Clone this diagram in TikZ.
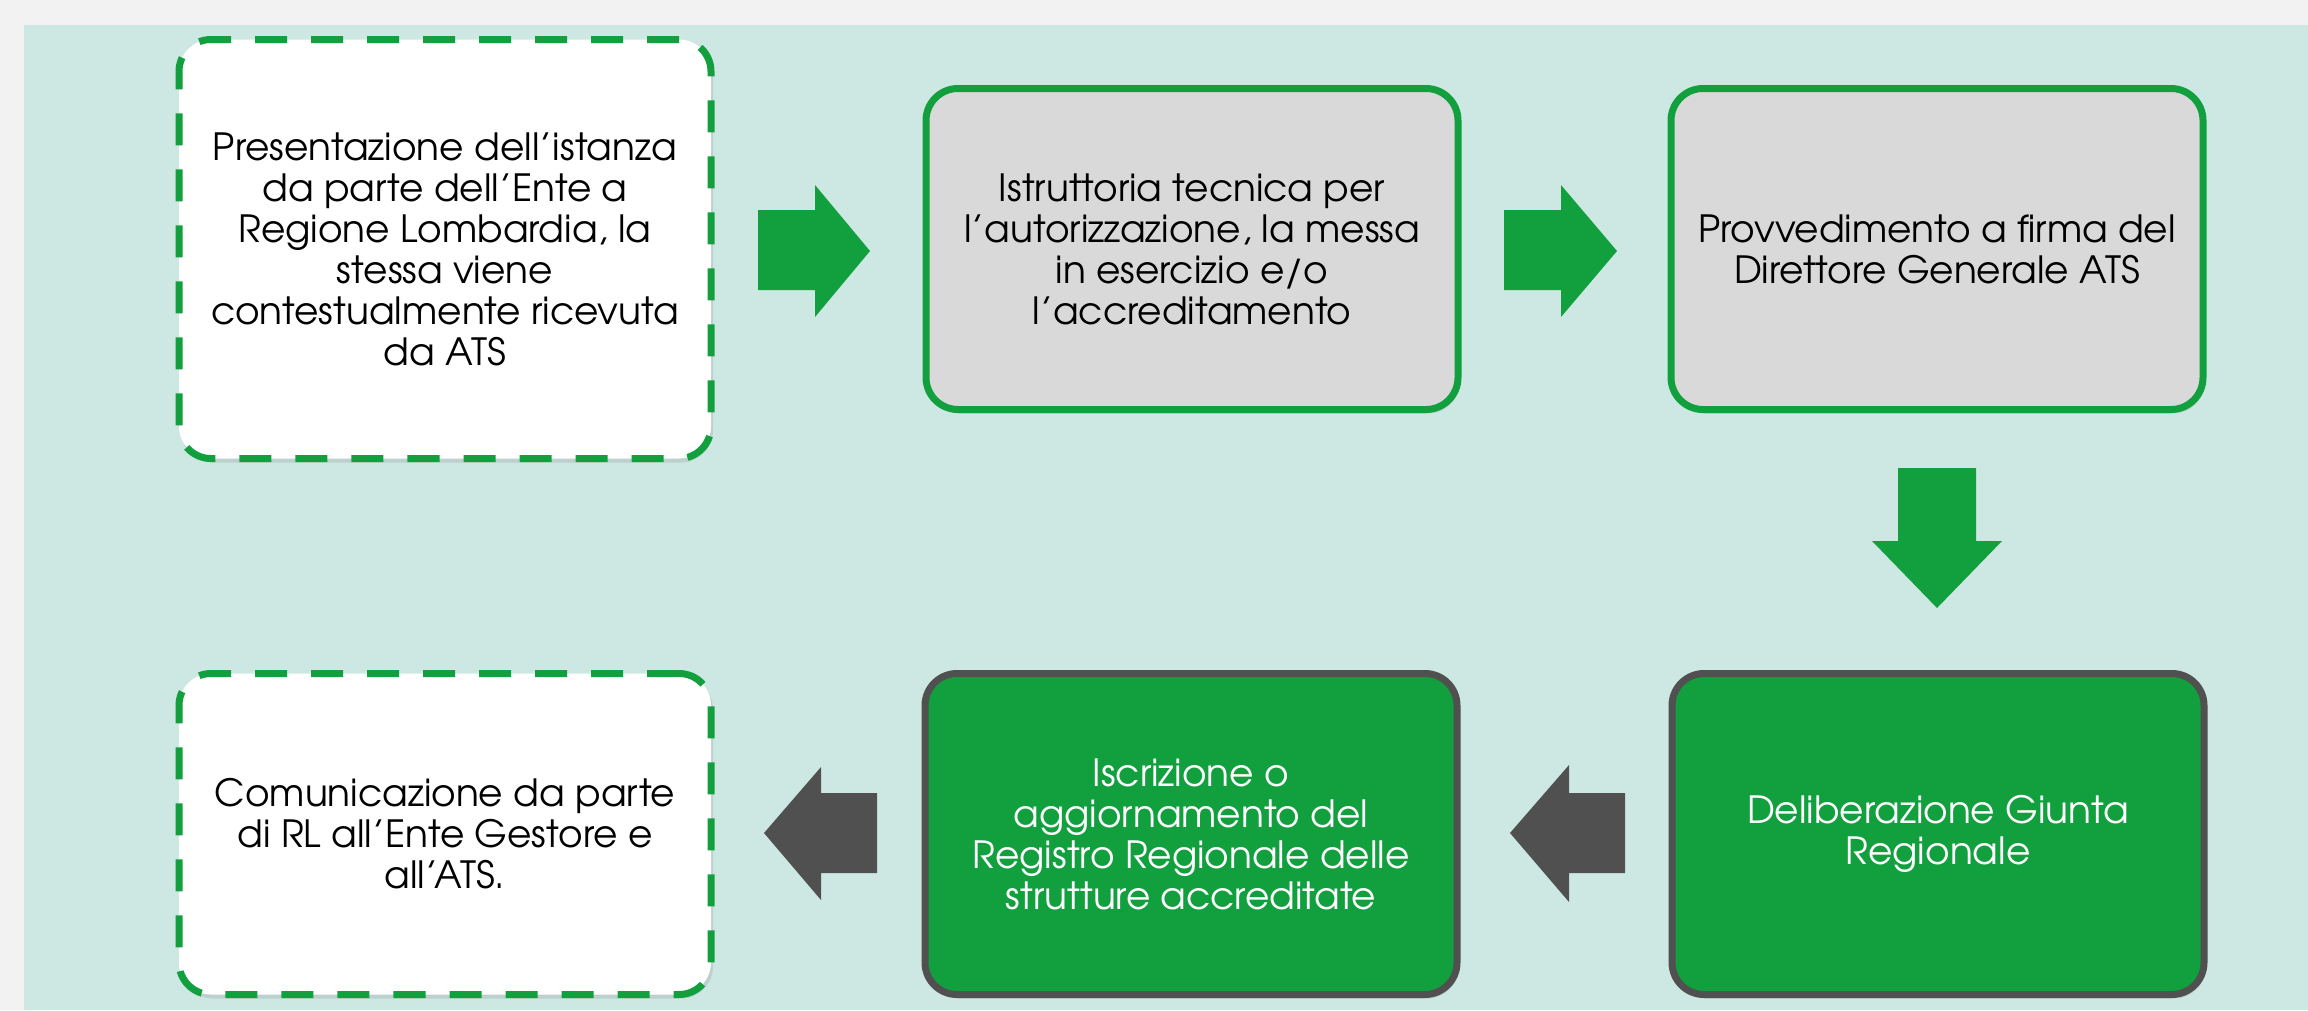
\documentclass[tikz,border=0pt]{standalone}
\usepackage{fontspec}
\setmainfont{TeX Gyre Adventor}
\usetikzlibrary{shadows}
\definecolor{topgray}{HTML}{F2F2F2}
\definecolor{bgteal}{HTML}{CDE7E3}
\definecolor{pgreen}{HTML}{12A03F}
\definecolor{lgray}{HTML}{D9D9D9}
\definecolor{dgray}{HTML}{505050}
\begin{document}
\begin{tikzpicture}[x=1pt,y=-1pt,
  boxbase/.style={rectangle, rounded corners=32pt, line width=7pt,
    minimum width=532pt, minimum height=321pt, align=center, inner sep=0pt,
    font=\fontsize{37.5}{41}\selectfont,
    drop shadow={opacity=0.22, shadow xshift=2pt, shadow yshift=-4pt}},
  dashbox/.style={boxbase, draw=pgreen, fill=white, dash pattern=on 32pt off 24pt, text=black},
  graybox/.style={boxbase, draw=pgreen, fill=lgray, text=black},
  greenbox/.style={boxbase, draw=dgray, fill=pgreen, text=white},
  garrow/.style={fill=pgreen},
  darrow/.style={fill=dgray}]
\useasboundingbox (0,0) rectangle (2308,1010);
\fill[topgray] (0,0) rectangle (2308,1010);
\fill[bgteal] (24,25) rectangle (2308,1010);

\node[dashbox, minimum height=419pt] (b1) at (445,249)
  {Presentazione dell’istanza\\da parte dell’Ente a\\Regione Lombardia, la\\stessa viene\\contestualmente ricevuta\\da ATS};
\node[graybox] (b2) at (1192,249)
  {Istruttoria tecnica per\\l’autorizzazione, la messa\\in esercizio e/o\\l’accreditamento};
\node[graybox] (b3) at (1937,249)
  {Provvedimento a firma del\\Direttore Generale ATS};
\node[dashbox] (b4) at (445,834)
  {Comunicazione da parte\\di RL all’Ente Gestore e\\all’ATS.};
\node[greenbox] (b5) at (1191,834)
  {Iscrizione o\\aggiornamento del\\Registro Regionale delle\\strutture accreditate};
\node[greenbox] (b6) at (1938,834)
  {Deliberazione Giunta\\Regionale};

% block arrows
\fill[garrow] (758,210) -- (815,210) -- (815,185) -- (870,251) -- (815,317) -- (815,290) -- (758,290) -- cycle;
\fill[garrow] (1504,210) -- (1561,210) -- (1561,185) -- (1617,251) -- (1561,317) -- (1561,290) -- (1504,290) -- cycle;
\fill[garrow] (1898,468) -- (1976,468) -- (1976,541) -- (2002,541) -- (1937,608) -- (1872,541) -- (1898,541) -- cycle;
\fill[darrow] (877,793) -- (821,793) -- (821,767) -- (764,833) -- (821,900) -- (821,873) -- (877,873) -- cycle;
\fill[darrow] (1625,793) -- (1569,793) -- (1569,765) -- (1510,833) -- (1569,902) -- (1569,873) -- (1625,873) -- cycle;
\end{tikzpicture}
\end{document}
